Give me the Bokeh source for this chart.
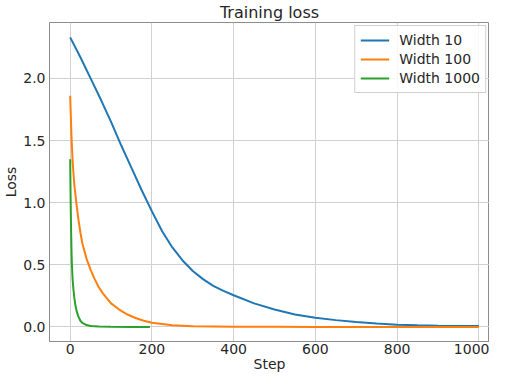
from bokeh.plotting import figure
from bokeh.models import ColumnDataSource, FixedTicker, NumeralTickFormatter, Range1d, Legend, LegendItem
from bokeh.embed import file_html
from bokeh.resources import INLINE

# ---- data ----
steps_w10 = [0, 25, 50, 75, 100, 125, 150, 175, 200, 225, 250, 275, 300, 325, 350, 375, 400,
             450, 500, 550, 600, 650, 700, 750, 800, 850, 900, 950, 1000]
loss_w10 = [2.33, 2.17, 2.00, 1.83, 1.65, 1.46, 1.28, 1.10, 0.93, 0.77, 0.64, 0.535, 0.45, 0.385,
            0.33, 0.29, 0.255, 0.19, 0.14, 0.10, 0.075, 0.055, 0.04, 0.027, 0.018, 0.013, 0.01,
            0.008, 0.007]

steps_w100 = [0, 3, 6, 10, 15, 20, 25, 30, 40, 50, 60, 70, 80, 90, 100, 120, 140, 160, 180, 200,
              250, 300, 400, 500, 600, 700, 800, 900, 1000]
loss_w100 = [1.86, 1.55, 1.33, 1.15, 1.00, 0.87, 0.76, 0.67, 0.55, 0.46, 0.385, 0.32, 0.27, 0.23,
             0.19, 0.14, 0.10, 0.072, 0.05, 0.034, 0.014, 0.006, 0.002, 0.001, 0.0, 0.0, 0.0, 0.0, 0.0]

steps_w1000 = [0, 1, 2, 3, 4, 6, 8, 10, 13, 16, 20, 25, 30, 40, 50, 70, 100, 150, 195]
loss_w1000 = [1.35, 1.05, 0.82, 0.65, 0.52, 0.38, 0.30, 0.24, 0.17, 0.125, 0.085, 0.05, 0.032,
              0.015, 0.007, 0.003, 0.001, 0.0, 0.0]

series_names = ["Width 10", "Width 100", "Width 1000"]
x_ticks = [0, 200, 400, 600, 800, 1000]
y_ticks = [0.0, 0.5, 1.0, 1.5, 2.0]

colors = ["#1f77b4", "#ff7f0e", "#2ca02c"]
text_color = "#262626"
font = "DejaVu Sans"

p = figure(width=489, height=374, output_backend="svg", toolbar_location=None,
           x_range=Range1d(-50.6, 1026), y_range=Range1d(-0.117, 2.45),
           title="Training loss", min_border_left=0, min_border_right=0,
           min_border_top=0, min_border_bottom=0)

p.title.text_font = font
p.title.text_font_size = "16px"
p.title.text_font_style = "normal"
p.title.text_color = text_color
p.title.align = "center"
p.title.standoff = 1

p.background_fill_color = "white"
p.border_fill_color = "white"
p.outline_line_color = "#8c8c8c"
p.outline_line_width = 1

for ax in (p.xaxis[0], p.yaxis[0]):
    ax.axis_line_color = "#8c8c8c"
    ax.major_tick_line_color = None
    ax.minor_tick_line_color = None
    ax.major_tick_out = 0
    ax.major_tick_in = 0
    ax.minor_tick_out = 0
    ax.major_label_text_font = font
    ax.major_label_text_font_size = "14px"
    ax.major_label_text_color = text_color
    ax.axis_label_text_font = font
    ax.axis_label_text_font_size = "14px"
    ax.axis_label_text_font_style = "normal"
    ax.axis_label_text_color = text_color

p.xaxis.axis_label = "Step"
p.yaxis.axis_label = "Loss"
p.xaxis.major_label_standoff = 2
p.xaxis.axis_label_standoff = -1
p.yaxis.major_label_standoff = 4
p.yaxis.axis_label_standoff = 1
p.xaxis.ticker = FixedTicker(ticks=x_ticks)
p.yaxis.ticker = FixedTicker(ticks=y_ticks)
p.yaxis.formatter = NumeralTickFormatter(format="0.0")

p.xgrid.ticker = FixedTicker(ticks=x_ticks)
p.ygrid.ticker = FixedTicker(ticks=y_ticks)
for g in (p.xgrid[0], p.ygrid[0]):
    g.grid_line_color = "#d0d0d0"
    g.grid_line_width = 1

all_steps = [steps_w10, steps_w100, steps_w1000]
all_loss = [loss_w10, loss_w100, loss_w1000]
items = []
for name, xs, ys, c in zip(series_names, all_steps, all_loss, colors):
    src = ColumnDataSource(dict(x=xs, y=ys))
    r = p.line("x", "y", source=src, line_color=c, line_width=2)
    items.append(LegendItem(label=name, renderers=[r]))

legend = Legend(items=items, location="top_right")
legend.label_text_font = font
legend.label_text_font_size = "14px"
legend.label_text_color = text_color
legend.border_line_color = "#d0d0d0"
legend.border_line_alpha = 1
legend.background_fill_alpha = 0.85
legend.glyph_width = 29
legend.glyph_height = 18
legend.label_height = 18
legend.spacing = 1
legend.padding = 5
legend.margin = 3
legend.label_standoff = 10
p.add_layout(legend)

open("out.html", "w").write(file_html(p, INLINE))
